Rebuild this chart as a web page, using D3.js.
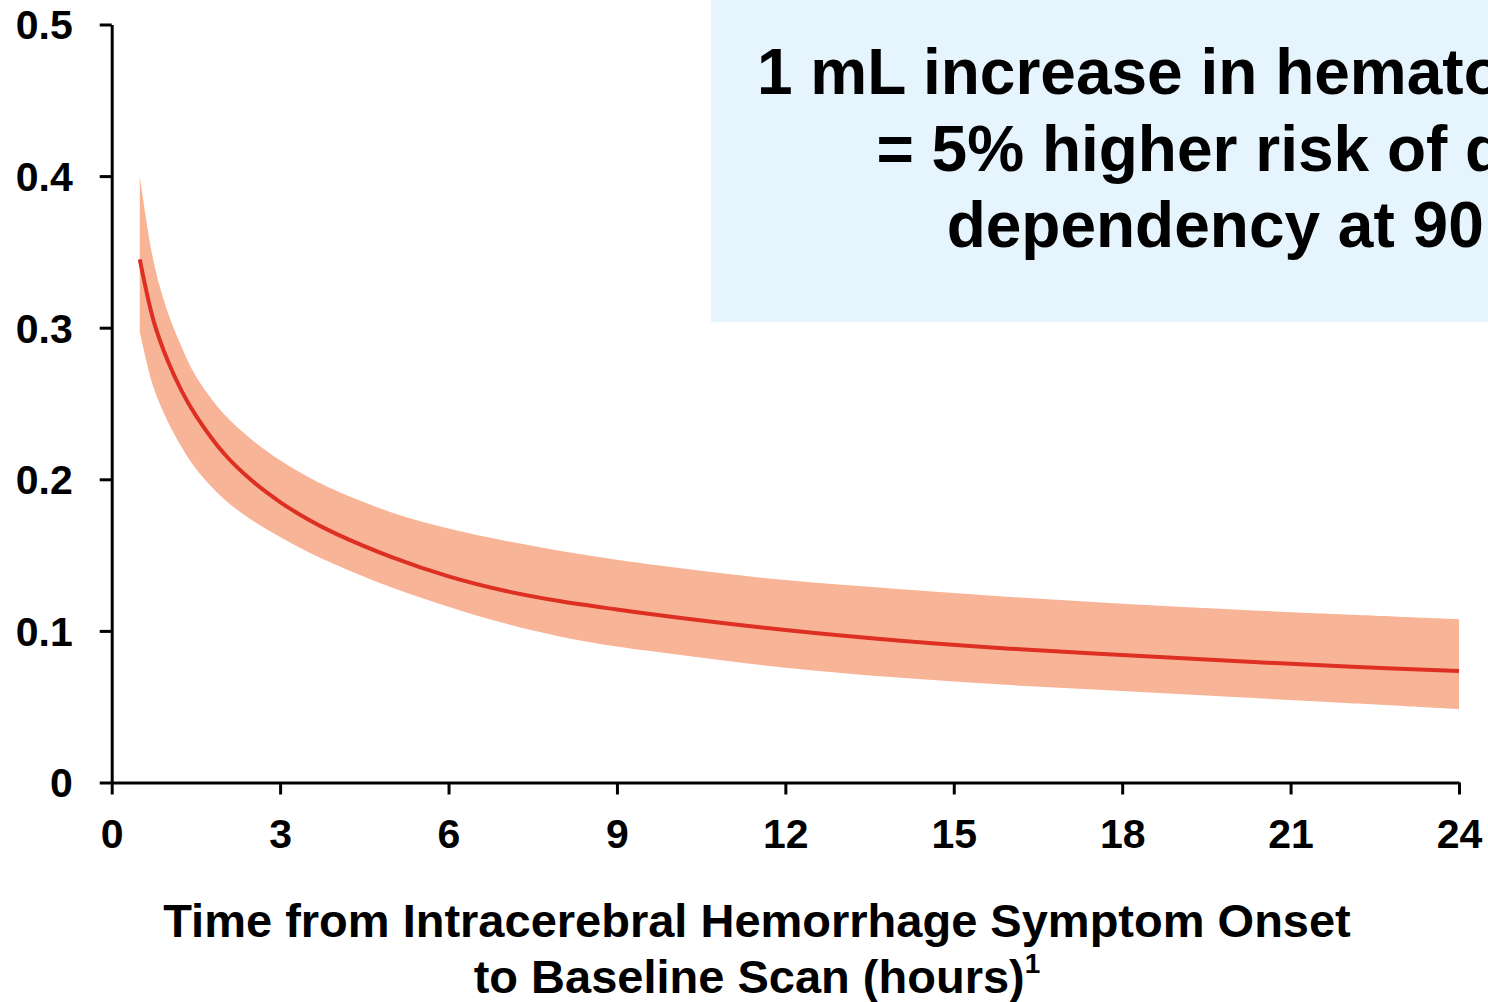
<!DOCTYPE html>
<html>
<head>
<meta charset="utf-8">
<script src="https://cdn.jsdelivr.net/npm/d3@7"></script>
<style>
  html, body { margin: 0; padding: 0; background: #fff; overflow: hidden; }
  svg { display: block; }
  text { font-family: "Liberation Sans", Arial, sans-serif; font-weight: bold; fill: #000; }
</style>
</head>
<body>
<svg id="chart" width="1488" height="1002"></svg>
<script>
// ---- data ----
const hours    = [0.5, 0.75, 1, 1.25, 1.5, 2, 2.5, 3, 3.5, 4, 5, 6, 7, 8, 9, 10, 12, 14, 16, 18, 20, 22, 24];
const estimate = [0.345, 0.304, 0.278, 0.258, 0.242, 0.217, 0.199, 0.185, 0.1735, 0.164, 0.1485, 0.1360, 0.1265, 0.1195, 0.1141, 0.1092, 0.1006, 0.0937, 0.0883, 0.0841, 0.0801, 0.0765, 0.0736];
const upperCI  = [0.400, 0.343, 0.310, 0.287, 0.268, 0.243, 0.226, 0.2125, 0.2015, 0.1925, 0.178, 0.1675, 0.1595, 0.1527, 0.1470, 0.1420, 0.1335, 0.1276, 0.1224, 0.1179, 0.1141, 0.1108, 0.1077];
const lowerCI  = [0.297, 0.260, 0.238, 0.221, 0.207, 0.187, 0.1730, 0.1620, 0.1520, 0.1435, 0.1285, 0.1160, 0.1050, 0.0962, 0.0897, 0.0848, 0.0757, 0.0692, 0.0643, 0.0604, 0.0564, 0.0524, 0.0483];
const xTicks   = [0, 3, 6, 9, 12, 15, 18, 21, 24];
const yTicks   = [0, 0.1, 0.2, 0.3, 0.4, 0.5];
const yTickLabels = ["0", "0.1", "0.2", "0.3", "0.4", "0.5"];
const calloutLines = ["1 mL increase in hematoma volume", "= 5% higher risk of death or", "dependency at 90 days"];
const xTitleLines = ["Time from Intracerebral Hemorrhage Symptom Onset", "to Baseline Scan (hours)"];
const xTitleSup = "1";

const rows = hours.map((h, i) => ({ h, est: estimate[i], lo: lowerCI[i], hi: upperCI[i] }));

// ---- layout ----
const svg = d3.select("#chart");
const x = d3.scaleLinear().domain([0, 24]).range([111.7, 1459]);
const y = d3.scaleLinear().domain([0, 0.5]).range([782.5, 24.5]);

// callout box
svg.append("rect")
  .attr("x", 711).attr("y", 0)
  .attr("width", 1150).attr("height", 322)
  .attr("fill", "#e6f5fd");

const callout = svg.append("text")
  .attr("text-anchor", "middle")
  .style("font-size", "64px");
calloutLines.forEach((t, i) => {
  callout.append("tspan").attr("x", 1297).attr("y", 94 + i * 76.5).text(t);
});

// confidence band
svg.append("path")
  .datum(rows)
  .attr("fill", "#f8b497")
  .attr("d", d3.area()
    .x(d => x(d.h))
    .y0(d => y(d.lo))
    .y1(d => y(d.hi))
    .curve(d3.curveCatmullRom.alpha(0.5)));

// estimate line
svg.append("path")
  .datum(rows)
  .attr("fill", "none")
  .attr("stroke", "#de2f23")
  .attr("stroke-width", 4)
  .attr("d", d3.line()
    .x(d => x(d.h))
    .y(d => y(d.est))
    .curve(d3.curveCatmullRom.alpha(0.5)));

// axes
const xAxis = d3.axisBottom(x).tickValues(xTicks).tickSize(12).tickSizeOuter(0).tickFormat(d3.format("d"));
const yAxis = d3.axisLeft(y).tickValues(yTicks).tickSize(12).tickSizeOuter(0).tickFormat((d, i) => yTickLabels[i]);

const gx = svg.append("g").attr("transform", `translate(0,${y(0)})`).call(xAxis);
const gy = svg.append("g").attr("transform", `translate(${x(0)},0)`).call(yAxis);

[gx, gy].forEach(g => {
  g.selectAll(".domain").attr("stroke", "#000").attr("stroke-width", 3);
  g.selectAll(".tick line").attr("stroke", "#000").attr("stroke-width", 3);
  g.selectAll(".tick text")
    .style("font-family", '"Liberation Sans", Arial, sans-serif')
    .style("font-weight", "bold")
    .style("font-size", "41px")
    .attr("fill", "#000");
});
gx.selectAll(".tick text").attr("y", 0).attr("dy", null).attr("transform", "translate(0,65.2)");
gy.selectAll(".tick text").attr("x", -39).attr("dy", "0.35em");

// x-axis title
const xt = svg.append("text").attr("text-anchor", "middle").style("font-size", "47px");
xt.append("tspan").attr("x", 757).attr("y", 937).text(xTitleLines[0]);
const l2 = xt.append("tspan").attr("x", 757).attr("y", 993);
l2.append("tspan").text(xTitleLines[1]);
l2.append("tspan").attr("dy", -20).style("font-size", "28px").text(xTitleSup);
</script>
</body>
</html>
